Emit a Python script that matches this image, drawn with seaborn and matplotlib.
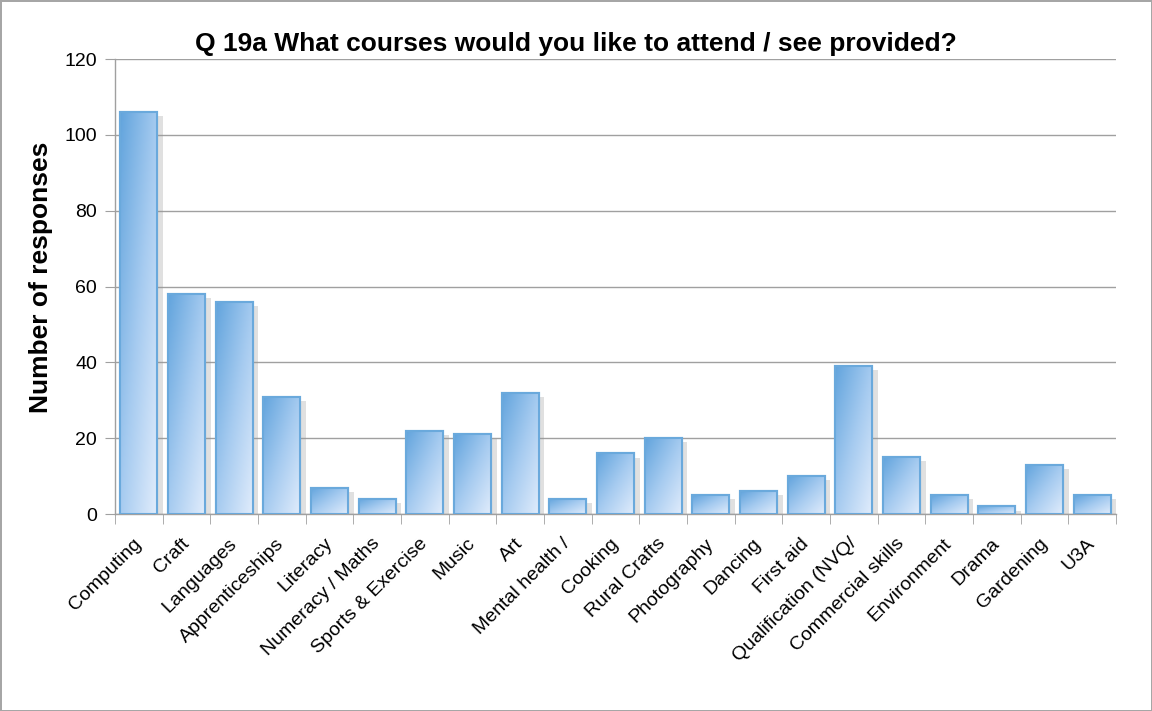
import numpy as np
import matplotlib
matplotlib.use("Agg")
import matplotlib.pyplot as plt
import matplotlib.patheffects as pe
import matplotlib.transforms as mtransforms
from matplotlib.colors import LinearSegmentedColormap
import seaborn as sns

courses = ["Computing", "Craft", "Languages", "Apprenticeships", "Literacy",
           "Numeracy / Maths", "Sports & Exercise", "Music", "Art", "Mental health /",
           "Cooking", "Rural Crafts", "Photography", "Dancing", "First aid",
           "Qualification (NVQ/", "Commercial skills", "Environment", "Drama",
           "Gardening", "U3A"]
responses = [106, 58, 56, 31, 7, 4, 22, 21, 32, 4, 16, 20, 5, 6, 10, 39, 15, 5, 2, 13, 5]
y_ticks = [0, 20, 40, 60, 80, 100, 120]

sns.set_style("white")
plt.rcParams['font.family'] = ['Liberation Sans', 'DejaVu Sans']
plt.rcParams['text.color'] = 'black'
plt.rcParams['axes.labelcolor'] = 'black'
plt.rcParams['xtick.labelcolor'] = 'black'
plt.rcParams['ytick.labelcolor'] = 'black'

fig = plt.figure(figsize=(11.52, 7.11), dpi=100, edgecolor="#a6a6a6", linewidth=2)
ax = fig.add_axes([0.0998, 0.277, 0.869, 0.640])

sns.barplot(x=courses, y=responses, color="#9cc4ec", width=0.78, ax=ax,
            edgecolor="#6aa9dc", linewidth=1.5, zorder=3)

# gradient fill: darker blue top-left to pale bottom-right
cmap = LinearSegmentedColormap.from_list("bar", ["#62a4dd", "#a6cbf0", "#e2edfc"])
gy, gx = np.mgrid[0:1:100j, 0:1:100j]
grad = (gx + gy) / 2
for p in ax.patches:
    x0, y0 = p.get_x(), p.get_y()
    w, h = p.get_width(), p.get_height()
    p.set_path_effects([pe.SimplePatchShadow(offset=(4, -3), shadow_rgbFace="#999999", alpha=0.3),
                        pe.Normal()])
    im = ax.imshow(grad, cmap=cmap, extent=[x0, x0 + w, y0, y0 + h], origin="upper",
                   aspect="auto", zorder=3.5, interpolation="bicubic")
    im.set_clip_path(p)
    ax.add_patch(plt.Rectangle((x0, y0), w, h, fill=False, edgecolor="#6aa9dc",
                               linewidth=1.5, zorder=4))

ax.set_xlim(-0.5, len(courses) - 0.5)
ax.set_ylim(0, 120)
ax.set_yticks(y_ticks)
ax.yaxis.grid(True, color="#a0a0a0", linewidth=1)
ax.set_axisbelow(True)

for s in ["top", "right"]:
    ax.spines[s].set_visible(False)
for s in ["left", "bottom"]:
    ax.spines[s].set_color("#a0a0a0")
    ax.spines[s].set_linewidth(1)

ax.tick_params(axis="y", length=7, color="#a0a0a0", labelsize=14, pad=6, left=True)
ax.set_xticks(range(len(courses)))
ax.set_xticklabels(courses, rotation=45, ha="right", rotation_mode="anchor", fontsize=14)
ax.tick_params(axis="x", which="major", length=0, pad=10)
ax.set_xticks(np.arange(-0.5, len(courses), 1), minor=True)
ax.tick_params(axis="x", which="minor", length=7, color="#a0a0a0", bottom=True)

# nudge the rotated labels a little down-left
shift = mtransforms.ScaledTranslation(-6 / 100, -7 / 100, fig.dpi_scale_trans)
for lbl in ax.get_xticklabels():
    lbl.set_transform(lbl.get_transform() + shift)

ax.set_ylabel("Number of responses", fontsize=19, fontweight="bold")
ax.yaxis.set_label_coords(-0.062, 0.521)
ax.set_title("Q 19a What courses would you like to attend / see provided?",
             fontsize=19, fontweight="bold", pad=6, x=0.46)

fig.savefig("out.png", dpi=100)
